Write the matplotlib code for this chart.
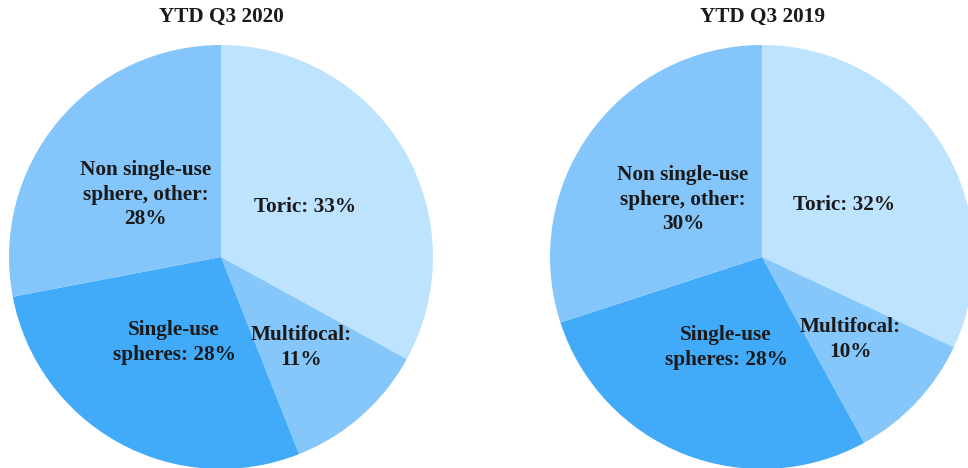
import numpy as np
import matplotlib.pyplot as plt

categories = ['Toric', 'Multifocal', 'Single-use\nspheres', 'Non single-use\nsphere, other']
label_2020 = ['Toric: 33%', 'Multifocal:\n11%', 'Single-use\nspheres: 28%', 'Non single-use\nsphere, other:\n28%']
label_2019 = ['Toric: 32%', 'Multifocal:\n10%', 'Single-use\nspheres: 28%', 'Non single-use\nsphere, other:\n30%']
share_2020 = [33, 11, 28, 28]
share_2019 = [32, 10, 28, 30]
titles = ['YTD Q3 2020', 'YTD Q3 2019']

colors = ['#bee3fe', '#85c7fb', '#42abf9', '#84c6fb']
label_dist = [0.46, 0.57, 0.46, 0.46]

plt.rcParams['font.family'] = ['Liberation Serif', 'DejaVu Serif']

W, H = 968, 468
fig = plt.figure(figsize=(W / 100, H / 100), dpi=100)

R = 212
centers = [(221, 257), (762, 257)]

for (cx, cy), vals, labels, title in zip(centers, [share_2020, share_2019],
                                         [label_2020, label_2019], titles):
    ax = fig.add_axes([(cx - R) / W, (H - cy - R) / H, 2 * R / W, 2 * R / H])
    wedges, _ = ax.pie(vals, colors=colors, startangle=90, counterclock=False,
                       radius=1.0, wedgeprops=dict(linewidth=0))
    for w, lab, d in zip(wedges, labels, label_dist):
        ang = np.deg2rad((w.theta1 + w.theta2) / 2)
        ax.text(d * np.cos(ang), d * np.sin(ang), lab, ha='center', va='center',
                fontsize=15.3, fontweight='bold', color='#1a1a1a', linespacing=1.3)
    ax.set_xlim(-1, 1)
    ax.set_ylim(-1, 1)
    ax.set_aspect('equal')
    ax.axis('off')
    fig.text(cx / W, 1 - 17 / H, title, ha='center', va='center',
             fontsize=15.3, fontweight='bold', color='#1a1a1a')

fig.savefig('out.png', dpi=100)
